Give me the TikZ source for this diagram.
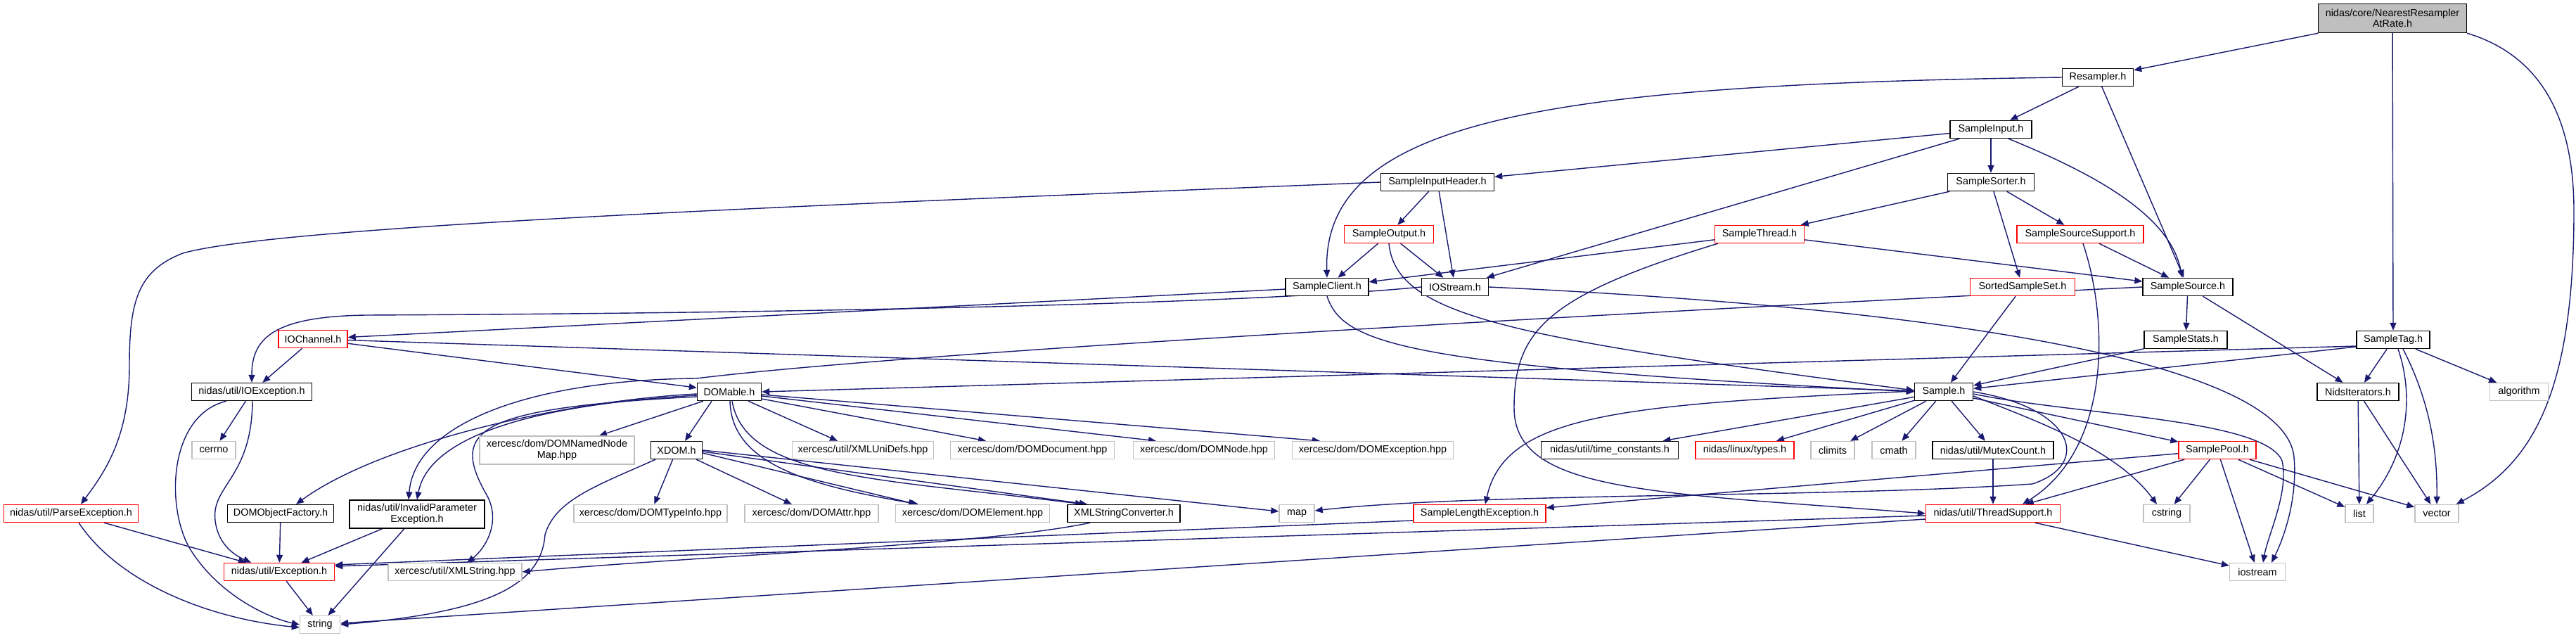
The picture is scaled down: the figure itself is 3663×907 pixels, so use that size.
\documentclass[tikz,border=0pt]{standalone}
\usepackage{fontspec}
\setmainfont{Liberation Sans}
\usetikzlibrary{arrows.meta}
\definecolor{edgec}{HTML}{191970}
\definecolor{grayb}{HTML}{BFBFBF}
\definecolor{redb}{HTML}{FF0000}
\pgfdeclarelayer{edgelayer}
\pgfsetlayers{edgelayer,main}
\begin{document}
\begin{tikzpicture}[x=1pt,y=-1pt,
  nd/.style={draw=black, line width=1.4pt, fill=white, text=black, font=\fontsize{14.4pt}{15.5pt}\selectfont, minimum height=25pt, inner sep=2pt, align=center},
  rd/.style={nd, draw=redb},
  gy/.style={nd, draw=grayb},
  mn/.style={nd, fill=grayb},
  dep/.style={draw=edgec, line width=1.4pt, -{Triangle[length=11pt,width=9pt]}}]
\begin{pgfonlayer}{edgelayer}
\fill[white] (0,0) rectangle (3663,907);
\end{pgfonlayer}
\useasboundingbox (0,0) rectangle (3663,907);
% nodes
\node[mn, minimum width=211pt, minimum height=41pt] (main) at (3402,26) {nidas/core/NearestResampler\\AtRate.h};
\node[nd, minimum width=101pt] (resampler) at (2983,110) {Resampler.h};
\node[nd, minimum width=116pt] (sinput) at (2831,184) {SampleInput.h};
\node[nd, minimum width=123pt] (ssorter) at (2831,259) {SampleSorter.h};
\node[nd, minimum width=161pt] (sih) at (2044,259) {SampleInputHeader.h};
\node[rd, minimum width=127pt] (soutput) at (1975,333) {SampleOutput.h};
\node[rd, minimum width=127pt] (sthread) at (2502,333) {SampleThread.h};
\node[rd, minimum width=180pt] (sss) at (2958,333) {SampleSourceSupport.h};
\node[nd, minimum width=118pt] (sclient) at (1887,408) {SampleClient.h};
\node[nd, minimum width=95pt] (iostreamh) at (2069,408) {IOStream.h};
\node[rd, minimum width=149pt] (sorted) at (2876,408) {SortedSampleSet.h};
\node[nd, minimum width=128pt] (ssource) at (3111,408) {SampleSource.h};
\node[rd, minimum width=98pt] (iochannel) at (445,482) {IOChannel.h};
\node[nd, minimum width=118pt] (sstats) at (3108,483) {SampleStats.h};
\node[nd, minimum width=104pt] (stag) at (3403,483) {SampleTag.h};
\node[nd, minimum width=171pt] (ioexc) at (358,557) {nidas/util/IOException.h};
\node[nd, minimum width=91pt] (domable) at (1037,557) {DOMable.h};
\node[nd, minimum width=83pt] (sample) at (2764,557) {Sample.h};
\node[nd, minimum width=116pt] (nids) at (3353,557) {NidsIterators.h};
\node[gy, minimum width=83pt] (algorithm) at (3582,557) {algorithm};
\node[gy, minimum width=62pt] (cerrno) at (304,640) {cerrno};
\node[gy, minimum width=220pt, minimum height=40pt] (namednode) at (792,640) {xercesc/dom/DOMNamedNode\\Map.hpp};
\node[nd, minimum width=73pt] (xdom) at (962,640) {XDOM.h};
\node[gy, minimum width=201pt] (xmlunidefs) at (1227,640) {xercesc/util/XMLUniDefs.hpp};
\node[gy, minimum width=233pt] (domdoc) at (1468,640) {xercesc/dom/DOMDocument.hpp};
\node[gy, minimum width=201pt] (domnode) at (1712,640) {xercesc/dom/DOMNode.hpp};
\node[gy, minimum width=229pt] (domexc) at (1952,640) {xercesc/dom/DOMException.hpp};
\node[nd, minimum width=195pt] (timec) at (2289,640) {nidas/util/time\_constants.h};
\node[rd, minimum width=140pt] (types) at (2481,640) {nidas/linux/types.h};
\node[gy, minimum width=62pt] (climits) at (2606,640) {climits};
\node[gy, minimum width=62pt] (cmath) at (2693,640) {cmath};
\node[nd, minimum width=172pt] (mutex) at (2834,640) {nidas/util/MutexCount.h};
\node[rd, minimum width=110pt] (spool) at (3153,640) {SamplePool.h};
\node[rd, minimum width=191pt] (parseexc) at (101,730) {nidas/util/ParseException.h};
\node[nd, minimum width=151pt] (domobjf) at (399,730) {DOMObjectFactory.h};
\node[nd, minimum width=192pt, minimum height=40pt] (invparam) at (593,731) {nidas/util/InvalidParameter\\Exception.h};
\node[gy, minimum width=218pt] (domtypeinfo) at (925,730) {xercesc/dom/DOMTypeInfo.hpp};
\node[gy, minimum width=190pt] (domattr) at (1154,730) {xercesc/dom/DOMAttr.hpp};
\node[gy, minimum width=219pt] (domelem) at (1383,730) {xercesc/dom/DOMElement.hpp};
\node[nd, minimum width=160pt] (xmlsc) at (1598,730) {XMLStringConverter.h};
\node[gy, minimum width=50pt] (map) at (1844,730) {map};
\node[rd, minimum width=188pt] (sle) at (2104,730) {SampleLengthException.h};
\node[rd, minimum width=191pt] (threadsup) at (2834,730) {nidas/util/ThreadSupport.h};
\node[gy, minimum width=66pt] (cstring) at (3081,730) {cstring};
\node[gy, minimum width=40pt] (list) at (3355,730) {list};
\node[gy, minimum width=62pt] (vector) at (3465,730) {vector};
\node[rd, minimum width=157pt] (exception) at (397,813) {nidas/util/Exception.h};
\node[gy, minimum width=190pt] (xmlstring) at (647,813) {xercesc/util/XMLString.hpp};
\node[gy, minimum width=79pt] (iostream) at (3210,813) {iostream};
\node[gy, minimum width=57pt] (string) at (455,888) {string};
% edges
\begin{pgfonlayer}{edgelayer}
\draw[dep] (main) -- (resampler);
\draw[dep] (main) -- (stag);
\draw[dep] (main.south east) .. controls (3600,75) and (3660,150) .. (3660,300) .. controls (3660,560) and (3600,660) .. ([xshift=-4pt]vector.north east);
\draw[dep] (resampler) -- (sinput);
\draw[dep] (resampler) -- (ssource);
\draw[dep] (resampler.west) .. controls (2200,120) and (1880,170) .. (sclient.north);
\draw[dep] (sinput) -- (sih);
\draw[dep] (sinput) -- (iostreamh);
\draw[dep] (sinput) -- (ssorter);
\draw[dep] ([xshift=25pt]sinput.south) .. controls (2960,240) and (3085,300) .. ([xshift=-8pt]ssource.north);
\draw[dep] (sih.west) .. controls (1200,290) and (400,320) .. (260,360) .. controls (195,385) and (184,430) .. (184,520) .. controls (184,620) and (150,670) .. ([xshift=14pt]parseexc.north);
\draw[dep] (sih) -- (soutput);
\draw[dep] (sih) -- (iostreamh);
\draw[dep] (ssorter) -- (sthread);
\draw[dep] (ssorter) -- (sorted);
\draw[dep] (ssorter) -- (sss);
\draw[dep] (soutput) -- (sclient);
\draw[dep] (soutput) -- (iostreamh);
\draw[dep] (soutput.south) .. controls (1985,450) and (2150,480) .. ([yshift=2pt]sample.west);
\draw[dep] (sthread) -- (sclient);
\draw[dep] (sthread) -- (ssource);
\draw[dep] ([xshift=5pt]sthread.south west) .. controls (2200,420) and (2153,470) .. (2153,580) .. controls (2153,700) and (2350,700) .. (threadsup.west);
\draw[dep] (sss) -- (ssource);
\draw[dep] ([xshift=4pt]sss.south) .. controls (3000,460) and (3000,640) .. ([xshift=42pt]threadsup.north);
\draw[dep] (sclient) -- (iochannel);
\draw[dep] (sclient.south) .. controls (1910,490) and (2000,520) .. (sample.west);
\draw[dep] (iostreamh.west) .. controls (1800,430) and (1200,445) .. (520,448) .. controls (390,450) and (358,480) .. (ioexc.north);
\draw[dep] (iostreamh.east) .. controls (2800,440) and (3250,520) .. (3262,650) .. controls (3268,720) and (3240,780) .. ([xshift=20pt]iostream.north);
\draw[dep] (sorted) -- (sample);
\draw[dep] (ssource) -- (sstats);
\draw[dep] (ssource) -- (nids);
\draw[dep] (ssource.west) .. controls (2300,445) and (1300,500) .. (990,538) .. controls (760,540) and (590,600) .. ([xshift=-12pt]invparam.north);
\draw[dep] (iochannel) -- (ioexc);
\draw[dep] (iochannel) -- (domable);
\draw[dep] (iochannel) -- (sample);
\draw[dep] (sstats) -- (sample);
\draw[dep] ([yshift=-9pt]stag.west) -- (domable.east);
\draw[dep] ([yshift=-10pt]stag.west) -- (sample);
\draw[dep] (stag) -- (nids);
\draw[dep] (stag) -- (algorithm);
\draw[dep] ([xshift=7pt]stag.south) .. controls (3435,570) and (3420,650) .. ([xshift=10pt]list.north);
\draw[dep] ([xshift=14pt]stag.south) .. controls (3455,570) and (3466,640) .. (vector.north);
\draw[dep] (ioexc) -- (cerrno);
\draw[dep] ([xshift=1pt]ioexc.south) .. controls (358,680) and (300,690) .. (306,740) .. controls (310,775) and (335,790) .. ([xshift=-40pt]exception.north);
\draw[dep] ([xshift=-36pt]ioexc.south) .. controls (240,590) and (235,720) .. (270,780) .. controls (310,845) and (380,878) .. (string.west);
\draw[dep] ([xshift=-37pt]domable.south) -- ([xshift=60pt]namednode.north);
\draw[dep] ([xshift=-25pt]domable.south) -- ([xshift=12pt]xdom.north);
\draw[dep] ([yshift=-3pt]domable.west) .. controls (800,570) and (540,630) .. ([xshift=22pt]domobjf.north);
\draw[dep] ([yshift=-5pt]domable.west) .. controls (760,575) and (610,620) .. (invparam.north);
\draw[dep] ([yshift=-7pt]domable.west) .. controls (680,580) and (640,610) .. (690,700) .. controls (715,740) and (690,780) .. ([xshift=17pt]xmlstring.north);
\draw[dep] ([xshift=27pt]domable.south) -- ([xshift=-36pt]xmlunidefs.north);
\draw[dep] ([yshift=-10pt]domable.east) -- ([xshift=-66pt]domdoc.north);
\draw[dep] ([yshift=-6pt]domable.east) -- ([xshift=-68pt]domnode.north);
\draw[dep] ([yshift=-4pt]domable.east) -- ([xshift=-75pt]domexc.north);
\draw[dep] ([xshift=1pt]domable.south) .. controls (1040,660) and (1150,690) .. ([xshift=-77pt]domelem.north);
\draw[dep] ([xshift=4pt]domable.south) .. controls (1060,680) and (1250,680) .. ([xshift=-58pt]xmlsc.north);
\draw[dep] ([xshift=-30pt]xdom.south) .. controls (850,690) and (790,710) .. (775,760) .. controls (770,830) and (700,870) .. (string.east);
\draw[dep] (xdom) -- (domtypeinfo);
\draw[dep] (xdom) -- (domattr);
\draw[dep] ([yshift=-4pt]xdom.east) -- ([xshift=-80pt]domelem.north);
\draw[dep] ([yshift=-2pt]xdom.east) -- ([xshift=-52pt]xmlsc.north);
\draw[dep] (xdom.east) -- ([yshift=3pt]map.west);
\draw[dep] ([yshift=1pt]sample.west) .. controls (2300,575) and (2140,590) .. ([xshift=8pt]sle.north);
\draw[dep] (sample) -- (timec);
\draw[dep] (sample) -- (types);
\draw[dep] (sample) -- (climits);
\draw[dep] (sample) -- (cmath);
\draw[dep] (sample) -- (mutex);
\draw[dep] (sample) -- (spool);
\draw[dep] ([yshift=-6pt]sample.east) .. controls (2900,600) and (3010,640) .. ([xshift=-14pt]cstring.north);
\draw[dep] ([yshift=-3pt]sample.east) .. controls (2950,590) and (3220,595) .. (3245,655) .. controls (3255,700) and (3225,760) .. ([xshift=8pt]iostream.north);
\draw[dep] (sample.east) .. controls (2950,580) and (2975,660) .. (2890,688) .. controls (2600,708) and (2100,700) .. ([yshift=4pt]map.east);
\draw[dep] (nids) -- (list);
\draw[dep] (nids) -- (vector);
\draw[dep] (parseexc) -- (exception);
\draw[dep] ([xshift=11pt]parseexc.south) .. controls (170,830) and (300,880) .. ([yshift=-4pt]string.west);
\draw[dep] (domobjf) -- (exception);
\draw[dep] (invparam) -- (exception);
\draw[dep] (invparam) -- (string);
\draw[dep] (mutex) -- (threadsup);
\draw[dep] (spool) -- (sle);
\draw[dep] (spool) -- (threadsup);
\draw[dep] (spool) -- (cstring);
\draw[dep] (spool) -- (iostream);
\draw[dep] (spool) -- (list);
\draw[dep] (spool) -- (vector);
\draw[dep] ([yshift=-10pt]sle.west) -- ([yshift=10pt]exception.east);
\draw[dep] ([yshift=-3pt]threadsup.west) -- ([yshift=8pt]exception.east);
\draw[dep] ([yshift=-8pt]threadsup.west) -- (string);
\draw[dep] (threadsup) -- (iostream);
\draw[dep] ([xshift=-48pt]xmlsc.south) .. controls (1400,775) and (1000,790) .. (xmlstring.east);
\draw[dep] (exception) -- (string);
\end{pgfonlayer}
\end{tikzpicture}
\end{document}
